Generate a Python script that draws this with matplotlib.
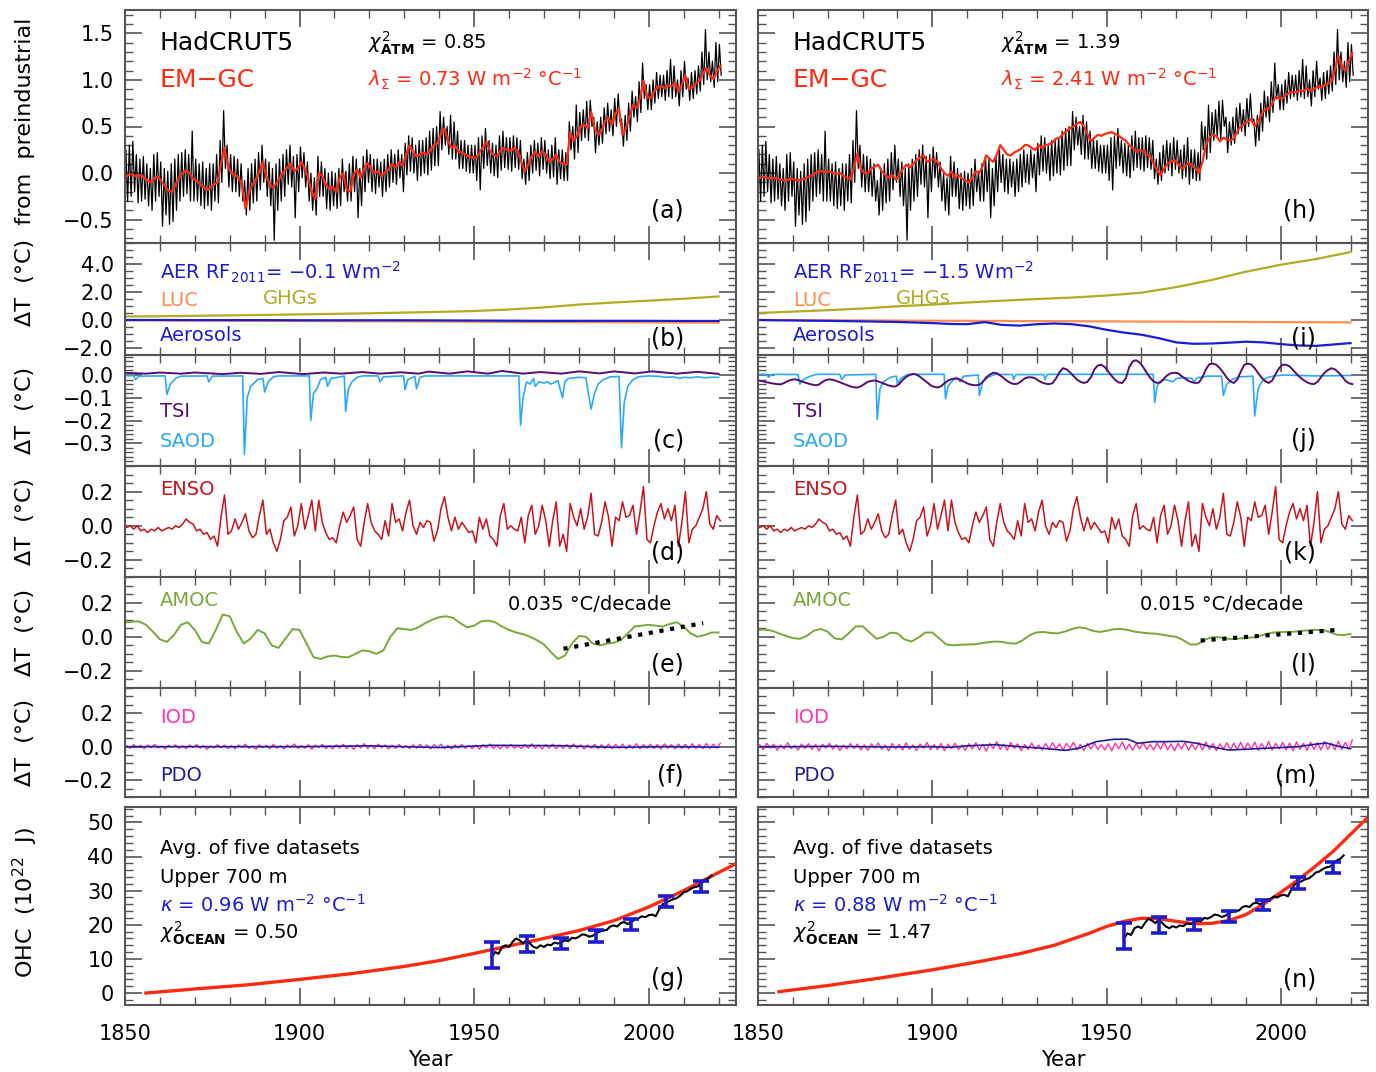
import numpy as np
import matplotlib
matplotlib.use('Agg')
import matplotlib.pyplot as plt
from matplotlib.ticker import MultipleLocator, FixedLocator, FuncFormatter

plt.rcParams['font.family'] = ['DejaVu Sans']
plt.rcParams['mathtext.fontset'] = 'dejavusans'

# ---------------- data ----------------
years = list(range(1850, 2021))          # annual series 1850..2020
dec_years = list(range(1850, 2021, 10))  # decadal points
two_years = list(range(1850, 2021, 2))   # 2-yearly points

# HadCRUT5 monthly trace, yearly upper / lower extent (deg C from preindustrial)
obs_hi = [0.25, 0.30, 0.34, 0.20, 0.15, 0.18, 0.10, 0.05, 0.20, 0.22,
          0.12, 0.05, 0.02, 0.10, 0.15, 0.20, 0.22, 0.25, 0.20, 0.45,
          0.15, 0.10, 0.12, 0.05, 0.10, 0.10, 0.20, 0.35, 0.67, 0.30,
          0.20, 0.18, 0.15, 0.10, -0.08, 0.05, 0.10, 0.15, 0.22, 0.30,
          0.15, 0.12, 0.05, 0.10, 0.15, 0.20, 0.25, 0.30, 0.18, 0.20,
          0.28, 0.22, 0.12, 0.00, -0.05, 0.18, 0.12, 0.05, 0.00, 0.02,
          0.00, 0.05, 0.15, 0.02, 0.10, 0.18, 0.15, 0.05, 0.18, 0.25,
          0.20, 0.15, 0.15, 0.12, 0.15, 0.20, 0.25, 0.20, 0.25, 0.20,
          0.32, 0.40, 0.38, 0.30, 0.35, 0.35, 0.38, 0.45, 0.48, 0.50,
          0.66, 0.60, 0.50, 0.62, 0.55, 0.45, 0.35, 0.35, 0.30, 0.30,
          0.30, 0.38, 0.40, 0.48, 0.35, 0.32, 0.30, 0.40, 0.45, 0.38,
          0.38, 0.40, 0.38, 0.35, 0.15, 0.22, 0.30, 0.35, 0.32, 0.38,
          0.35, 0.25, 0.30, 0.38, 0.25, 0.25, 0.22, 0.55, 0.50, 0.73,
          0.65, 0.68, 0.77, 0.78, 0.60, 0.55, 0.60, 0.70, 0.75, 0.68,
          0.80, 0.85, 0.58, 0.62, 0.75, 0.88, 0.82, 0.98, 1.18, 0.95,
          0.95, 1.00, 1.08, 1.05, 1.05, 1.10, 1.22, 1.15, 1.00, 1.10,
          1.20, 1.02, 1.08, 1.10, 1.15, 1.30, 1.54, 1.30, 1.20, 1.40,
          1.38]
obs_lo = [-0.30, -0.25, -0.20, -0.32, -0.30, -0.28, -0.35, -0.40, -0.30, -0.25,
          -0.57, -0.45, -0.55, -0.52, -0.40, -0.30, -0.25, -0.22, -0.30, -0.30,
          -0.30, -0.35, -0.38, -0.35, -0.40, -0.30, -0.32, -0.10, 0.05, -0.15,
          -0.20, -0.20, -0.25, -0.30, -0.45, -0.40, -0.32, -0.30, -0.18, -0.10,
          -0.25, -0.35, -0.72, -0.40, -0.30, -0.25, -0.12, -0.15, -0.48, -0.20,
          -0.05, -0.15, -0.30, -0.40, -0.45, -0.25, -0.25, -0.38, -0.40, -0.35,
          -0.38, -0.35, -0.20, -0.30, -0.30, -0.20, -0.48, -0.35, -0.20, -0.10,
          -0.20, -0.22, -0.15, -0.25, -0.20, -0.15, -0.10, -0.12, -0.05, -0.20,
          -0.02, 0.02, 0.00, -0.08, -0.03, 0.00, -0.02, 0.03, 0.08, 0.08,
          0.25, 0.30, 0.20, 0.15, 0.15, 0.05, 0.05, 0.02, 0.00, 0.00,
          -0.08, -0.18, 0.05, 0.08, 0.00, -0.03, -0.05, 0.03, 0.06, 0.04,
          0.02, 0.06, 0.04, -0.06, -0.12, -0.08, 0.00, 0.03, -0.03, 0.04,
          0.00, -0.06, -0.04, -0.12, -0.06, -0.08, -0.08, 0.25, 0.15, 0.22,
          0.35, 0.38, 0.35, 0.50, 0.22, 0.30, 0.32, 0.42, 0.45, 0.40,
          0.50, 0.55, 0.29, 0.35, 0.45, 0.60, 0.55, 0.65, 0.80, 0.68,
          0.68, 0.75, 0.80, 0.82, 0.78, 0.82, 0.80, 0.82, 0.72, 0.82,
          0.90, 0.78, 0.80, 0.85, 0.88, 0.95, 1.00, 0.98, 0.92, 0.98,
          1.05]

# EM-GC fits
emgc_a = [-0.03, -0.01, -0.02, -0.04, -0.02, -0.05, -0.08, -0.10, -0.05, -0.04,
          -0.09, -0.14, -0.19, -0.20, -0.12, -0.05, 0.00, 0.03, 0.00, -0.06,
          -0.08, -0.12, -0.15, -0.18, -0.15, -0.12, -0.10, 0.10, 0.27, 0.08,
          0.00, -0.02, -0.05, -0.12, -0.38, -0.22, -0.12, -0.07, 0.02, 0.12,
          -0.05, -0.12, -0.16, -0.10, -0.04, 0.02, 0.06, 0.10, 0.02, 0.05,
          0.12, 0.05, -0.06, -0.20, -0.28, 0.00, -0.03, -0.12, -0.17, -0.15,
          -0.20, -0.05, 0.00, -0.18, -0.20, -0.02, 0.04, -0.05, 0.05, 0.11,
          0.05, 0.00, 0.02, -0.03, 0.01, 0.04, 0.10, 0.06, 0.12, 0.08,
          0.20, 0.30, 0.22, 0.18, 0.20, 0.22, 0.20, 0.25, 0.30, 0.32,
          0.42, 0.48, 0.35, 0.27, 0.30, 0.23, 0.22, 0.20, 0.18, 0.17,
          0.16, 0.22, 0.28, 0.34, 0.24, 0.20, 0.18, 0.24, 0.27, 0.25,
          0.24, 0.27, 0.24, 0.12, 0.02, 0.10, 0.18, 0.23, 0.18, 0.24,
          0.20, 0.12, 0.15, 0.20, 0.12, 0.10, 0.09, 0.44, 0.35, 0.40,
          0.50, 0.52, 0.48, 0.66, 0.48, 0.41, 0.45, 0.56, 0.59, 0.52,
          0.64, 0.69, 0.41, 0.48, 0.60, 0.73, 0.70, 0.80, 0.99, 0.82,
          0.80, 0.87, 0.92, 0.93, 0.91, 0.94, 0.93, 0.97, 0.88, 0.95,
          1.05, 0.90, 0.92, 0.96, 0.99, 1.06, 1.13, 1.05, 1.01, 1.09,
          1.15]
emgc_h = [-0.05, -0.04, -0.05, -0.06, -0.05, -0.06, -0.07, -0.08, -0.07, -0.06,
          -0.07, -0.08, -0.07, -0.06, -0.04, -0.02, 0.00, 0.02, 0.02, 0.01,
          0.02, 0.00, -0.01, 0.00, -0.03, -0.05, -0.07, 0.05, 0.21, 0.05,
          0.00, 0.00, 0.05, 0.07, 0.09, 0.02, -0.02, -0.05, -0.02, -0.07,
          -0.02, 0.04, 0.09, 0.06, 0.10, 0.14, 0.17, 0.19, 0.12, 0.14,
          0.15, 0.12, 0.05, 0.00, -0.03, 0.02, -0.05, -0.02, -0.06, -0.08,
          -0.10, -0.04, 0.02, 0.00, 0.08, 0.19, 0.15, 0.12, 0.20, 0.30,
          0.25, 0.20, 0.19, 0.22, 0.24, 0.26, 0.30, 0.30, 0.27, 0.25,
          0.30, 0.27, 0.30, 0.31, 0.33, 0.37, 0.38, 0.42, 0.45, 0.48,
          0.50, 0.53, 0.55, 0.50, 0.42, 0.34, 0.38, 0.41, 0.40, 0.42,
          0.43, 0.44, 0.42, 0.40, 0.37, 0.35, 0.30, 0.27, 0.23, 0.25,
          0.24, 0.20, 0.18, 0.10, 0.03, -0.02, 0.05, 0.10, 0.12, 0.14,
          0.10, 0.05, 0.07, 0.11, 0.08, 0.05, 0.00, 0.12, 0.30, 0.38,
          0.41, 0.40, 0.34, 0.38, 0.36, 0.35, 0.37, 0.45, 0.50, 0.53,
          0.55, 0.58, 0.50, 0.56, 0.64, 0.68, 0.69, 0.74, 0.82, 0.80,
          0.80, 0.84, 0.86, 0.87, 0.87, 0.89, 0.88, 0.91, 0.88, 0.90,
          0.93, 0.92, 0.94, 0.96, 0.98, 1.10, 1.26, 1.15, 1.10, 1.20,
          1.29]

# anthropogenic terms (decadal)
ghg_a = [0.25, 0.27, 0.30, 0.33, 0.36, 0.40, 0.44, 0.48, 0.53, 0.58,
         0.64, 0.75, 0.90, 1.10, 1.25, 1.38, 1.52, 1.68]
aer_a = [0.0, 0.0, -0.01, -0.01, -0.01, -0.02, -0.02, -0.02, -0.02, -0.03,
         -0.04, -0.05, -0.06, -0.06, -0.06, -0.06, -0.07, -0.07]
luc_a = [-0.02, -0.03, -0.04, -0.05, -0.06, -0.07, -0.08, -0.09, -0.10, -0.11,
         -0.12, -0.13, -0.14, -0.15, -0.16, -0.17, -0.18, -0.19]
ghg_h = [0.50, 0.60, 0.70, 0.82, 0.98, 1.10, 1.25, 1.38, 1.50, 1.60,
         1.75, 1.95, 2.35, 2.85, 3.45, 3.95, 4.35, 4.85]
luc_h = [0.0, -0.01, -0.02, -0.03, -0.04, -0.05, -0.06, -0.07, -0.08, -0.09,
         -0.10, -0.11, -0.12, -0.13, -0.14, -0.15, -0.16, -0.17]
aer_h_years = list(range(1850, 2021, 5))
aer_h = [0.0, -0.02, -0.03, -0.05, -0.06, -0.08, -0.10, -0.12, -0.14, -0.18,
         -0.22, -0.28, -0.30, -0.15, -0.35, -0.40, -0.30, -0.25, -0.30, -0.45,
         -0.70, -0.90, -1.05, -1.30, -1.60, -1.70, -1.68, -1.62, -1.55, -1.60,
         -1.72, -1.82, -1.85, -1.75, -1.65]

# solar and volcanic terms
tsi_a_years = [1850, 1856, 1860, 1866, 1870, 1878, 1883, 1889, 1894, 1901, 1907,
               1912, 1918, 1923, 1929, 1934, 1937, 1943, 1948, 1954, 1958, 1964,
               1969, 1975, 1980, 1986, 1990, 1996, 2001, 2008, 2014, 2020]
tsi_a = [0.010, 0.006, 0.011, 0.006, 0.011, 0.004, 0.010, 0.005, 0.013, 0.004, 0.011,
         0.006, 0.013, 0.006, 0.012, 0.006, 0.015, 0.006, 0.016, 0.006, 0.018, 0.006,
         0.013, 0.006, 0.016, 0.007, 0.016, 0.007, 0.016, 0.006, 0.014, 0.005]
tsi_h = [-0.025, -0.028, -0.032, -0.035, -0.038, -0.040, -0.041, -0.035, -0.027, -0.021,
         -0.019, -0.022, -0.028, -0.033, -0.038, -0.042, -0.045, -0.042, -0.030, -0.022,
         -0.019, -0.021, -0.026, -0.032, -0.038, -0.044, -0.050, -0.054, -0.055, -0.050,
         -0.040, -0.030, -0.026, -0.024, -0.028, -0.034, -0.040, -0.046, -0.050, -0.050,
         -0.040, -0.022, -0.008, 0.000, 0.005, 0.002, -0.008, -0.020, -0.032, -0.045,
         -0.052, -0.055, -0.050, -0.036, -0.025, -0.018, -0.015, -0.017, -0.025, -0.033,
         -0.040, -0.044, -0.045, -0.043, -0.030, -0.010, 0.002, 0.010, 0.008, -0.002,
         -0.014, -0.026, -0.035, -0.040, -0.038, -0.028, -0.015, -0.010, -0.010, -0.014,
         -0.025, -0.033, -0.038, -0.040, -0.036, -0.015, 0.012, 0.030, 0.025, 0.012,
         -0.004, -0.020, -0.030, -0.035, -0.030, -0.010, 0.025, 0.042, 0.045, 0.035,
         0.015, -0.005, -0.022, -0.033, -0.035, -0.015, 0.035, 0.060, 0.065, 0.055,
         0.035, 0.010, -0.012, -0.028, -0.035, -0.032, -0.015, 0.000, 0.008, 0.010,
         0.008, -0.005, -0.015, -0.026, -0.032, -0.035, -0.033, -0.010, 0.025, 0.048,
         0.050, 0.045, 0.030, 0.010, -0.012, -0.028, -0.035, -0.020, 0.015, 0.045,
         0.050, 0.046, 0.030, 0.008, -0.012, -0.027, -0.035, -0.025, 0.005, 0.030,
         0.045, 0.045, 0.038, 0.022, 0.005, -0.010, -0.022, -0.032, -0.038, -0.040,
         -0.030, -0.010, 0.010, 0.022, 0.030, 0.025, 0.012, -0.005, -0.025, -0.036,
         -0.040]
saod_a_years = [1850, 1852.5, 1853, 1854, 1861.5, 1862, 1863, 1864.5, 1866, 1873.5, 1874,
                1875, 1883.7, 1884.2, 1885, 1886, 1888, 1889.5, 1890, 1891, 1892.5, 1894,
                1902.8, 1903.2, 1904, 1905, 1906, 1907.5, 1908, 1909, 1912.8, 1913.2, 1914,
                1915, 1916.5, 1918, 1922.5, 1923, 1924, 1929.8, 1930.2, 1931, 1933, 1933.5,
                1934.5, 1936, 1962.8, 1963.3, 1964, 1965, 1966, 1967, 1967.5, 1968.5, 1970,
                1971, 1972, 1974, 1975.3, 1976, 1977, 1980, 1982, 1982.5, 1983.5, 1984.5,
                1985.5, 1987, 1989, 1991.5, 1992.2, 1993, 1994, 1995.5, 1997, 2000, 2003,
                2005, 2007, 2009, 2010, 2012, 2014, 2016, 2018, 2020]
saod_a = [-0.003, -0.003, -0.02, -0.005, -0.004, -0.085, -0.04, -0.015, -0.005, -0.004, -0.03,
          -0.005, -0.004, -0.35, -0.10, -0.05, -0.02, -0.015, -0.075, -0.03, -0.008, -0.004,
          -0.004, -0.20, -0.08, -0.06, -0.02, -0.01, -0.05, -0.015, -0.005, -0.16, -0.06,
          -0.03, -0.01, -0.004, -0.004, -0.03, -0.008, -0.004, -0.065, -0.02, -0.006, -0.06,
          -0.01, -0.004, -0.004, -0.22, -0.10, -0.03, -0.04, -0.015, -0.05, -0.03, -0.035,
          -0.03, -0.04, -0.025, -0.10, -0.03, -0.015, -0.01, -0.012, -0.06, -0.15, -0.08,
          -0.04, -0.02, -0.008, -0.006, -0.32, -0.12, -0.05, -0.02, -0.008, -0.004, -0.006,
          -0.01, -0.008, -0.015, -0.01, -0.012, -0.008, -0.012, -0.01, -0.01]
saod_h_years = [1850, 1852.5, 1853, 1854, 1861.5, 1862, 1863, 1865, 1867, 1873.5, 1874,
                1875, 1883.8, 1884.2, 1885, 1886, 1888, 1889.7, 1890, 1891, 1893, 1903.4,
                1903.8, 1904.5, 1905.5, 1907, 1908, 1909, 1913.2, 1913.5, 1914.5, 1916, 1918,
                1923, 1923.3, 1924, 1932, 1932.3, 1933, 1963.4, 1963.8, 1964.5, 1965.5, 1967,
                1969, 1970, 1972, 1974.5, 1975, 1976, 1979, 1983, 1983.5, 1984.5, 1986, 1988,
                1992, 1992.5, 1993.5, 1994.5, 1996, 1998, 2001, 2005, 2010, 2015, 2020]
saod_h = [0.003, 0.003, -0.01, 0.003, 0.002, -0.04, -0.02, -0.005, 0.003, 0.003, -0.02,
          0.0, 0.003, -0.195, -0.06, -0.03, -0.01, -0.005, -0.04, -0.015, 0.003, 0.003,
          -0.105, -0.05, -0.03, -0.01, -0.03, -0.005, 0.0, -0.09, -0.03, -0.01, 0.003,
          0.002, -0.02, 0.002, 0.002, -0.02, 0.003, 0.003, -0.12, -0.05, -0.025, -0.02,
          -0.03, -0.015, -0.012, -0.015, -0.03, -0.012, -0.005, -0.005, -0.09, -0.04, -0.02, -0.008,
          -0.005, -0.18, -0.06, -0.03, -0.012, -0.004, 0.0, -0.002, -0.004, -0.003, -0.002]

# ENSO (same for both fits)
enso = [-0.01, 0.00, -0.02, 0.00, -0.03, -0.02, -0.04, -0.02, -0.03, -0.01,
        -0.03, -0.02, -0.01, -0.02, 0.00, -0.01, 0.01, 0.04, 0.02, 0.01,
        -0.03, -0.02, -0.05, -0.04, -0.08, -0.06, -0.12, 0.05, 0.18, -0.05,
        -0.03, 0.04, -0.02, 0.02, 0.07, -0.03, -0.07, -0.05, 0.06, 0.15,
        -0.05, -0.02, -0.10, -0.15, -0.08, 0.03, 0.05, 0.11, -0.06, 0.00,
        0.13, -0.02, 0.06, 0.15, -0.03, 0.15, 0.02, -0.04, -0.08, -0.07,
        -0.10, 0.00, 0.08, 0.02, 0.06, 0.11, -0.08, -0.12, 0.02, 0.13,
        0.02, -0.03, -0.05, -0.08, 0.03, -0.06, 0.13, 0.02, 0.04, -0.03,
        0.08, 0.15, 0.00, -0.05, 0.02, -0.01, 0.03, 0.02, -0.09, -0.03,
        0.10, 0.17, 0.05, -0.03, 0.05, -0.02, 0.02, -0.01, -0.04, -0.03,
        -0.10, 0.05, -0.02, 0.04, -0.06, -0.08, -0.12, 0.06, 0.13, -0.02,
        0.00, -0.02, -0.03, 0.05, -0.10, 0.06, 0.12, -0.05, 0.00, 0.12,
        0.03, -0.12, 0.03, 0.14, -0.12, -0.05, -0.15, 0.13, 0.05, 0.00,
        0.10, -0.02, 0.05, 0.19, -0.05, -0.06, 0.02, 0.14, 0.05, -0.12,
        0.05, 0.03, 0.14, 0.05, 0.06, 0.12, -0.05, 0.08, 0.23, -0.08,
        -0.10, 0.00, 0.08, 0.13, 0.04, 0.10, 0.03, 0.12, -0.12, 0.02,
        0.20, -0.10, -0.02, 0.00, 0.05, 0.10, 0.20, 0.01, -0.02, 0.06,
        0.03]

# AMOC (2-yearly) and linear trends
amoc_a = [0.084, 0.088, 0.09, 0.07, 0.03, -0.015, -0.03, 0.01, 0.07, 0.085,
          0.04, -0.03, -0.04, 0.04, 0.13, 0.12, 0.03, -0.04, -0.01, 0.04,
          0.02, -0.05, -0.065, -0.01, 0.045, 0.04, -0.04, -0.12, -0.13, -0.115,
          -0.11, -0.118, -0.12, -0.10, -0.08, -0.085, -0.10, -0.08, 0.0, 0.05,
          0.045, 0.04, 0.055, 0.08, 0.10, 0.115, 0.12, 0.11, 0.08, 0.055,
          0.065, 0.09, 0.095, 0.085, 0.06, 0.04, 0.025, 0.015, 0.0, -0.02,
          -0.045, -0.09, -0.13, -0.11, -0.04, 0.005, 0.0, -0.04, -0.05, -0.04,
          -0.035, -0.02, 0.02, 0.06, 0.065, 0.07, 0.065, 0.06, 0.075, 0.085,
          0.06, 0.02, 0.0, 0.01, 0.025, 0.025]
amoc_h = [0.04, 0.042, 0.035, 0.02, 0.005, -0.008, -0.012, 0.005, 0.035, 0.046,
          0.03, -0.01, -0.015, 0.02, 0.06, 0.062, 0.025, -0.012, 0.0, 0.024,
          0.02, -0.015, -0.028, -0.005, 0.025, 0.025, -0.01, -0.045, -0.05, -0.047,
          -0.045, -0.044, -0.038, -0.032, -0.028, -0.03, -0.038, -0.04, -0.02, 0.01,
          0.026, 0.028, 0.022, 0.02, 0.03, 0.045, 0.055, 0.05, 0.035, 0.028,
          0.035, 0.044, 0.046, 0.04, 0.03, 0.025, 0.02, 0.018, 0.012, 0.005,
          0.0, -0.02, -0.045, -0.045, -0.02, -0.003, -0.002, -0.01, -0.014, -0.01,
          -0.006, -0.004, 0.005, 0.018, 0.025, 0.028, 0.028, 0.03, 0.034, 0.038,
          0.04, 0.04, 0.028, 0.012, 0.01, 0.016]
trend_a_x, trend_a_y = [1975.6, 2015.6], [-0.07, 0.08]
trend_h_x, trend_h_y = [1977.0, 2016.0], [-0.022, 0.04]

# IOD and PDO
iod_a = [0.005, -0.01, 0.012, -0.004, 0.008, -0.012, 0.01, -0.006, 0.014, -0.008,
         0.004, -0.014, 0.009, -0.003, 0.011, -0.01, 0.006, -0.012, 0.01, -0.005,
         0.013, -0.009, 0.007, -0.015, 0.004, -0.008, 0.012, -0.006, 0.009, -0.011,
         0.006, -0.013, 0.01, -0.004, 0.015, -0.01, 0.005, -0.016, 0.011, -0.007,
         0.008, -0.012, 0.014, -0.009, 0.006, -0.014, 0.01, -0.005, 0.016, -0.011,
         0.007, -0.01, 0.012, -0.015, 0.009, -0.006, 0.013, -0.011, 0.005, -0.013,
         0.011, -0.008, 0.014, -0.012, 0.008, -0.016, 0.012, -0.007, 0.018, -0.01,
         0.009, -0.013, 0.015, -0.006, 0.01, -0.014, 0.008, -0.01, 0.013, -0.008,
         0.006, -0.012, 0.011, -0.009, 0.014, -0.007, 0.01, -0.013, 0.012, -0.006,
         0.015, -0.011, 0.008, -0.014, 0.011, -0.008, 0.013, -0.01, 0.007, -0.012,
         0.01, -0.015, 0.012, -0.007, 0.016, -0.011, 0.009, -0.013, 0.011, -0.008,
         0.014, -0.01, 0.008, -0.012, 0.013, -0.009, 0.017, -0.011, 0.01, -0.014,
         0.012, -0.008, 0.015, -0.013, 0.009, -0.01, 0.013, -0.012, 0.016, -0.009,
         0.011, -0.014, 0.01, -0.008, 0.014, -0.012, 0.012, -0.01, 0.015, -0.011,
         0.013, -0.009, 0.016, -0.013, 0.011, -0.01, 0.018, -0.012, 0.012, -0.008,
         0.015, -0.011, 0.013, -0.014, 0.017, -0.009, 0.012, -0.013, 0.016, -0.01,
         0.014, -0.012, 0.018, -0.009, 0.013, -0.011, 0.019, -0.01, 0.015, -0.008,
         0.02]
iod_h = [0.012, -0.018, 0.02, -0.008, 0.015, -0.022, 0.01, -0.014, 0.024, -0.012,
         0.008, -0.02, 0.016, -0.01, 0.018, -0.016, 0.012, -0.024, 0.014, -0.009,
         0.02, -0.015, 0.011, -0.022, 0.009, -0.013, 0.018, -0.011, 0.015, -0.019,
         0.01, -0.021, 0.017, -0.008, 0.022, -0.016, 0.009, -0.025, 0.019, -0.012,
         0.014, -0.02, 0.023, -0.015, 0.01, -0.022, 0.016, -0.009, 0.025, -0.018,
         0.012, -0.017, 0.02, -0.024, 0.015, -0.01, 0.021, -0.018, 0.009, -0.022,
         0.018, -0.013, 0.024, -0.02, 0.014, -0.026, 0.02, -0.012, 0.03, -0.016,
         0.015, -0.021, 0.025, -0.01, 0.017, -0.023, 0.013, -0.017, 0.022, -0.013,
         0.01, -0.02, 0.019, -0.015, 0.024, -0.012, 0.017, -0.022, 0.02, -0.01,
         0.026, -0.018, 0.013, -0.024, 0.019, -0.014, 0.022, -0.017, 0.012, -0.02,
         0.017, -0.025, 0.021, -0.012, 0.028, -0.019, 0.015, -0.022, 0.019, -0.013,
         0.024, -0.017, 0.014, -0.02, 0.022, -0.015, 0.03, -0.019, 0.017, -0.024,
         0.02, -0.014, 0.026, -0.022, 0.015, -0.017, 0.023, -0.02, 0.028, -0.015,
         0.019, -0.024, 0.017, -0.014, 0.024, -0.02, 0.021, -0.017, 0.026, -0.019,
         0.022, -0.015, 0.028, -0.022, 0.019, -0.017, 0.031, -0.021, 0.02, -0.014,
         0.026, -0.019, 0.022, -0.024, 0.029, -0.016, 0.021, -0.022, 0.027, -0.017,
         0.024, -0.02, 0.031, -0.016, 0.022, -0.019, 0.033, -0.017, 0.026, -0.014,
         0.04]
pdo_a_years = [1850, 1900, 1920, 1940, 1955, 1975, 1990, 2005, 2020]
pdo_a = [0.0, 0.0, 0.005, -0.005, 0.008, 0.006, -0.004, 0.0, -0.003]
pdo_h_years = [1850, 1860, 1870, 1880, 1890, 1900, 1905, 1910, 1918, 1925, 1932, 1938,
               1942, 1947, 1952, 1956, 1959, 1963, 1967, 1972, 1976, 1980, 1985, 1990,
               1995, 2000, 2005, 2010, 2013, 2016, 2020]
pdo_h = [0.0, 0.0, 0.002, 0.0, -0.002, 0.0, -0.004, 0.005, 0.012, 0.0, -0.01, -0.022,
         -0.01, 0.03, 0.044, 0.045, 0.02, 0.03, 0.03, 0.032, 0.02, 0.0, -0.02, -0.015,
         -0.01, -0.005, 0.0, 0.015, 0.022, 0.005, -0.012]

# ocean heat content (10^22 J)
ohc_mod_a_years = [1856, 1870, 1885, 1900, 1915, 1930, 1940, 1950, 1960, 1970, 1980,
                   1990, 2000, 2010, 2020, 2025]
ohc_mod_a = [0.0, 1.2, 2.4, 4.0, 5.7, 7.8, 9.5, 11.6, 13.8, 16.0, 18.3,
             21.2, 25.2, 30.0, 35.3, 37.9]
ohc_mod_h_years = [1856, 1870, 1885, 1900, 1915, 1925, 1935, 1945, 1950, 1955, 1960,
                   1965, 1970, 1975, 1980, 1985, 1990, 1995, 2000, 2005, 2010, 2015,
                   2020, 2025]
ohc_mod_h = [0.4, 2.2, 4.4, 6.8, 9.5, 11.5, 14.0, 17.5, 19.5, 21.0, 21.9,
             21.8, 21.0, 20.3, 20.4, 21.2, 23.0, 26.0, 29.5, 33.2, 37.2, 41.5,
             46.5, 51.5]
ohc_obs_years = list(range(1955, 2019))
ohc_obs_a = [10.5, 12.0, 11.5, 13.5, 14.0, 13.5, 15.0, 16.0, 15.5, 14.5,
             15.5, 14.5, 13.5, 13.2, 14.0, 13.5, 14.2, 14.0, 14.8, 14.5,
             14.8, 15.5, 15.2, 16.2, 16.0, 16.5, 17.2, 17.0, 16.5, 16.8,
             17.5, 18.0, 18.3, 18.5, 19.5, 19.8, 19.5, 20.5, 20.8, 20.2,
             20.8, 21.5, 21.8, 22.5, 22.2, 22.8, 23.0, 22.5, 24.5, 26.0,
             26.5, 27.0, 27.5, 27.8, 28.5, 29.5, 29.8, 30.5, 31.0, 31.2,
             32.0, 33.0, 33.5, 34.5]
ohc_obs_h = [16.0, 17.5, 17.0, 19.0, 19.5, 19.0, 20.5, 21.8, 21.2, 20.5,
             21.5, 20.5, 19.5, 19.0, 19.6, 19.2, 19.8, 19.6, 20.4, 20.2,
             20.5, 21.2, 21.0, 22.0, 21.8, 22.3, 23.0, 22.8, 22.3, 22.6,
             23.3, 23.8, 24.0, 24.2, 25.2, 25.5, 25.2, 26.2, 26.5, 26.0,
             26.6, 27.3, 27.6, 28.3, 28.0, 28.6, 28.8, 28.3, 30.3, 31.8,
             32.3, 32.8, 33.3, 33.6, 34.3, 35.3, 35.6, 36.3, 36.8, 37.0,
             37.8, 38.8, 39.3, 40.3]
ohc_err_years = [1955, 1965, 1975, 1985, 1995, 2005, 2015]
ohc_err_a = [11.1, 14.4, 14.5, 16.7, 20.2, 26.8, 31.2]
ohc_err_h = [16.7, 19.9, 20.1, 22.4, 25.8, 32.3, 36.8]
ohc_err_size = [3.9, 2.3, 1.7, 1.7, 1.6, 1.7, 1.6]

# per-column text
fits = {
    'left':  dict(chi_atm='0.85', lam='0.73', aer='\u22120.1', trend='0.035',
                  kappa='0.96', chi_ocn='0.50', tags='abcdefg'),
    'right': dict(chi_atm='1.39', lam='2.41', aer='\u22121.5', trend='0.015',
                  kappa='0.88', chi_ocn='1.47', tags='hijklmn'),
}

# ---------------- colours ----------------
RED = '#ff2a12'
BLUE = '#1c1cd2'
C_LUC = '#ff8d4d'
C_GHG = '#b3ab22'
C_TSI = '#560c74'
C_SAOD = '#2aa9ff'
C_ENSO = '#c8141c'
C_AMOC = '#79a83a'
C_IOD = '#ff33aa'
C_PDO = '#1e1e96'
EDGE = '#555555'

W, H = 1376, 1072
rows = [(10, 243), (243, 355), (355, 466), (466, 577), (577, 688), (688, 797), (807, 1005)]
cols = [(125, 736), (758, 1368)]

ylims = [(-0.75, 1.75), (-2.5, 5.5), (-0.40, 0.088), (-0.3, 0.35), (-0.3, 0.35),
         (-0.3, 0.35), (-3.5, 54.5)]
yticks = [[-0.5, 0.0, 0.5, 1.0, 1.5], [-2, 0, 2, 4], [-0.3, -0.2, -0.1, 0.0],
          [-0.2, 0.0, 0.2], [-0.2, 0.0, 0.2], [-0.2, 0.0, 0.2], [0, 10, 20, 30, 40, 50]]
yminor = [0.1, 0.5, 0.02, 0.05, 0.05, 0.05, 2]
yfmt = ['%.1f', '%.1f', '%.1f', '%.1f', '%.1f', '%.1f', '%d']

fig = plt.figure(figsize=(W / 100, H / 100), dpi=100)


def fmt_factory(f):
    return FuncFormatter(lambda v, p: (f % v).replace('-', '\u2212'))


def tx(ax, x, y, s, color='black', size=13.5, ha='left'):
    ax.text(x, y, s, transform=ax.transAxes, color=color, fontsize=size,
            ha=ha, va='center')


rows_tag_y = [0.14, 0.15, 0.23, 0.22, 0.21, 0.20, 0.13]
letter_row = {}
for key in fits:
    for i, ch in enumerate(fits[key]['tags']):
        letter_row[ch] = i


def tag(ax, letter):
    ax.text(0.915, rows_tag_y[letter_row[letter]], '(' + letter + ')',
            transform=ax.transAxes, fontsize=17, ha='right', va='center')


axes = {}
for c, (x0, x1) in enumerate(cols):
    for r, (y0, y1) in enumerate(rows):
        ax = fig.add_axes([x0 / W, 1 - y1 / H, (x1 - x0) / W, (y1 - y0) / H])
        ax.set_xlim(1850, 2025)
        ax.set_ylim(*ylims[r])
        ax.xaxis.set_major_locator(MultipleLocator(50))
        ax.xaxis.set_minor_locator(MultipleLocator(10))
        ax.yaxis.set_major_locator(FixedLocator(yticks[r]))
        ax.yaxis.set_minor_locator(MultipleLocator(yminor[r]))
        ax.yaxis.set_major_formatter(fmt_factory(yfmt[r]))
        ax.tick_params(which='both', direction='in', top=True, right=True,
                       color=EDGE, labelsize=15)
        ax.tick_params(axis='y', pad=8)
        ax.tick_params(axis='x', pad=14)
        ax.tick_params(which='major', length=12, width=1.2)
        ax.tick_params(which='minor', length=6, width=1.0)
        ax.tick_params(labelleft=(c == 0), labelbottom=(r == 6))
        for sp in ax.spines.values():
            sp.set_color(EDGE)
            sp.set_linewidth(1.5)
        axes[(c, r)] = ax

# ---------------- panels ----------------
obs_t, obs_v = [], []
for yr, hi, lo in zip(years, obs_hi, obs_lo):
    obs_t += [yr + 0.25, yr + 0.75]
    obs_v += [hi, lo]
mid = [y + 0.5 for y in years]

col_data = {
    0: dict(emgc=emgc_a, ghg=ghg_a, aer=aer_a, aer_x=dec_years, luc=luc_a,
            tsi=tsi_a, tsi_x=tsi_a_years, saod=saod_a, saod_x=saod_a_years,
            amoc=amoc_a, tr_x=trend_a_x, tr_y=trend_a_y, iod=iod_a, pdo=pdo_a,
            pdo_x=pdo_a_years, ohc_m=ohc_mod_a, ohc_mx=ohc_mod_a_years,
            ohc_o=ohc_obs_a, ohc_e=ohc_err_a, f=fits['left']),
    1: dict(emgc=emgc_h, ghg=ghg_h, aer=aer_h, aer_x=aer_h_years, luc=luc_h,
            tsi=tsi_h, tsi_x=mid, saod=saod_h, saod_x=saod_h_years,
            amoc=amoc_h, tr_x=trend_h_x, tr_y=trend_h_y, iod=iod_h, pdo=pdo_h,
            pdo_x=pdo_h_years, ohc_m=ohc_mod_h, ohc_mx=ohc_mod_h_years,
            ohc_o=ohc_obs_h, ohc_e=ohc_err_h, f=fits['right']),
}

for c in (0, 1):
    d = col_data[c]
    f = d['f']
    tags = f['tags']

    # (a)/(h) global temperature
    ax = axes[(c, 0)]
    ax.plot(obs_t, obs_v, color='black', lw=0.9)
    ax.plot(mid, d['emgc'], color=RED, lw=1.6)
    tx(ax, 0.057, 0.858, 'HadCRUT5', size=18)
    tx(ax, 0.057, 0.70, 'EM\u2212GC', color=RED, size=18)
    tx(ax, 0.398, 0.858, r'$\chi^{2}_{\mathbf{ATM}}$ = ' + f['chi_atm'], size=14)
    tx(ax, 0.398, 0.70, r'$\lambda_{\Sigma}$ = ' + f['lam'] + r' W m$^{-2}$ °C$^{-1}$',
       color=RED, size=14)
    tag(ax, tags[0])

    # (b)/(i) anthropogenic
    ax = axes[(c, 1)]
    ax.plot(dec_years, d['luc'], color=C_LUC, lw=1.6)
    ax.plot(dec_years, d['ghg'], color=C_GHG, lw=1.6)
    ax.plot(d['aer_x'], d['aer'], color=BLUE, lw=1.6)
    tx(ax, 0.057, 0.74, 'AER RF$_{2011}$= ' + f['aer'] + ' Wm$^{-2}$', color=BLUE, size=14)
    tx(ax, 0.057, 0.49, 'LUC', color=C_LUC, size=14)
    tx(ax, 0.226, 0.50, 'GHGs', color=C_GHG, size=14)
    tx(ax, 0.057, 0.17, 'Aerosols', color=BLUE, size=14)
    tag(ax, tags[1])

    # (c)/(j) solar and volcanic
    ax = axes[(c, 2)]
    ax.plot(d['saod_x'], d['saod'], color=C_SAOD, lw=1.2)
    ax.plot(d['tsi_x'], d['tsi'], color=C_TSI, lw=1.4)
    tx(ax, 0.057, 0.49, 'TSI', color=C_TSI, size=14)
    tx(ax, 0.057, 0.225, 'SAOD', color=C_SAOD, size=14)
    tag(ax, tags[2])

    # (d)/(k) ENSO
    ax = axes[(c, 3)]
    ax.plot(mid, enso, color=C_ENSO, lw=1.1)
    tx(ax, 0.057, 0.79, 'ENSO', color=C_ENSO, size=14)
    tag(ax, tags[3])

    # (e)/(l) AMOC
    ax = axes[(c, 4)]
    ax.plot(two_years, d['amoc'], color=C_AMOC, lw=1.4)
    ax.plot(d['tr_x'], d['tr_y'], color='black', lw=3, linestyle=(0, (1, 1.6)))
    tx(ax, 0.057, 0.79, 'AMOC', color=C_AMOC, size=14)
    tx(ax, 0.627, 0.75, f['trend'] + ' °C/decade', size=14)
    tag(ax, tags[4])

    # (f)/(m) IOD and PDO
    ax = axes[(c, 5)]
    ax.plot(mid, d['iod'], color=C_IOD, lw=1.0)
    ax.plot(d['pdo_x'], d['pdo'], color=C_PDO, lw=1.2)
    tx(ax, 0.057, 0.73, 'IOD', color=C_IOD, size=14)
    tx(ax, 0.057, 0.20, 'PDO', color=C_PDO, size=14)
    tag(ax, tags[5])

    # (g)/(n) ocean heat content
    ax = axes[(c, 6)]
    ax.plot(d['ohc_mx'], d['ohc_m'], color=RED, lw=2.4)
    ax.plot(ohc_obs_years, d['ohc_o'], color='black', lw=1.5)
    ax.errorbar(ohc_err_years, d['ohc_e'], yerr=ohc_err_size, fmt='none',
                ecolor=BLUE, elinewidth=2.6, capsize=6, capthick=2.6, zorder=5)
    tx(ax, 0.057, 0.79, 'Avg. of five datasets', size=14)
    tx(ax, 0.057, 0.646, 'Upper 700 m', size=14)
    tx(ax, 0.057, 0.505, r'$\kappa$ = ' + f['kappa'] + r' W m$^{-2}$ °C$^{-1}$',
       color=BLUE, size=14)
    tx(ax, 0.057, 0.364, r'$\chi^{2}_{\mathbf{OCEAN}}$ = ' + f['chi_ocn'], size=14)
    tag(ax, tags[6])
    ax.set_xlabel('Year', fontsize=15, labelpad=4)

# y-axis labels on the left
fig.text(25 / W, 1 - 172 / H, '\u0394T  (°C)  from  preindustrial', rotation=90,
         ha='center', va='center', fontsize=16)
for r, yc in [(2, 410), (3, 521), (4, 632), (5, 742)]:
    fig.text(25 / W, 1 - yc / H, '\u0394T  (°C)', rotation=90, ha='center',
             va='center', fontsize=16)
fig.text(25 / W, 1 - 903 / H, 'OHC  (10$^{22}$  J)', rotation=90, ha='center',
         va='center', fontsize=16)

fig.savefig('out.png', dpi=100)
